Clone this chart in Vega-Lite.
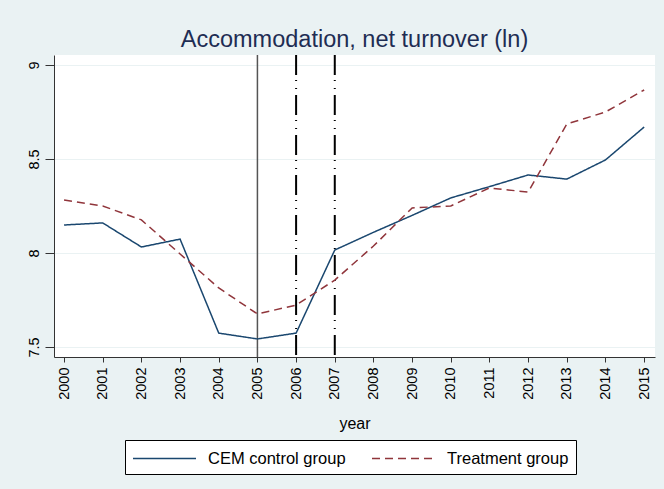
{
  "$schema": "https://vega.github.io/schema/vega-lite/v6.json",
  "width": 601,
  "height": 302,
  "autosize": {"type": "none"},
  "padding": {"left": 54, "top": 55, "right": 9, "bottom": 132},
  "background": "#EAF2F3",
  "title": {
    "text": "Accommodation, net turnover (ln)",
    "fontSize": 23.5,
    "font": "Liberation Sans",
    "fontWeight": "normal",
    "color": "#1e2d53",
    "offset": 3,
    "anchor": "middle"
  },
  "config": {
    "view": {"stroke": null, "fill": "white"},
    "font": "Liberation Sans",
    "axisX": {
      "domainColor": "#333333",
      "domainWidth": 1,
      "tickColor": "#333333",
      "tickSize": 5,
      "tickWidth": 1,
      "labelAngle": -90,
      "labelFontSize": 14.5,
      "labelColor": "black",
      "labelPadding": 5,
      "grid": false,
      "titleFontSize": 16,
      "titleFontWeight": "normal",
      "titleColor": "black",
      "titlePadding": 16
    },
    "axisY": {
      "domainColor": "#333333",
      "domainWidth": 1,
      "tickColor": "#333333",
      "tickSize": 9,
      "tickWidth": 1,
      "labelAngle": -90,
      "labelAlign": "center",
      "labelBaseline": "bottom",
      "labelFontSize": 14.5,
      "labelColor": "black",
      "labelPadding": 4,
      "grid": true,
      "gridColor": "#EAF2F3",
      "gridWidth": 1
    },
    "legend": {
      "orient": "none",
      "legendX": 71,
      "legendY": 385,
      "direction": "horizontal",
      "symbolType": "M-3,0H3",
      "symbolSize": 441,
      "symbolOffset": 21,
      "symbolStrokeWidth": 1.5,
      "labelFontSize": 16.5,
      "labelColor": "black",
      "labelFont": "Liberation Sans",
      "labelLimit": 300,
      "strokeColor": "black",
      "fillColor": "white",
      "padding": 7,
      "columnPadding": 23,
      "labelOffset": 32
    }
  },
  "layer": [
    {
      "data": {"values": [{"year": 2005}]},
      "mark": {"type": "rule", "color": "#555555", "strokeWidth": 1.5},
      "encoding": {
        "x": {"field": "year", "type": "quantitative", "title": "year", "scale": {"domain": [1999.74, 2015.28], "nice": false, "zero": false}, "axis": {"values": [2000, 2001, 2002, 2003, 2004, 2005, 2006, 2007, 2008, 2009, 2010, 2011, 2012, 2013, 2014, 2015], "format": "d"}}
      }
    },
    {
      "data": {"values": [{"year": 2006}, {"year": 2007}]},
      "mark": {"type": "rule", "color": "black", "strokeWidth": 2, "strokeDash": [20, 5, 1, 7, 1, 6]},
      "encoding": {
        "x": {"field": "year", "type": "quantitative", "title": "year"}
      }
    },
    {
      "data": {
        "values": [
          {"year": 2000, "group": "CEM control group", "value": 8.149},
          {"year": 2001, "group": "CEM control group", "value": 8.160},
          {"year": 2002, "group": "CEM control group", "value": 8.032},
          {"year": 2003, "group": "CEM control group", "value": 8.074},
          {"year": 2004, "group": "CEM control group", "value": 7.574},
          {"year": 2005, "group": "CEM control group", "value": 7.543},
          {"year": 2006, "group": "CEM control group", "value": 7.574},
          {"year": 2007, "group": "CEM control group", "value": 8.016},
          {"year": 2008, "group": "CEM control group", "value": 8.110},
          {"year": 2009, "group": "CEM control group", "value": 8.200},
          {"year": 2010, "group": "CEM control group", "value": 8.293},
          {"year": 2011, "group": "CEM control group", "value": 8.353},
          {"year": 2012, "group": "CEM control group", "value": 8.415},
          {"year": 2013, "group": "CEM control group", "value": 8.393},
          {"year": 2014, "group": "CEM control group", "value": 8.495},
          {"year": 2015, "group": "CEM control group", "value": 8.670},
          {"year": 2000, "group": "Treatment group", "value": 8.282},
          {"year": 2001, "group": "Treatment group", "value": 8.250},
          {"year": 2002, "group": "Treatment group", "value": 8.176},
          {"year": 2003, "group": "Treatment group", "value": 7.995},
          {"year": 2004, "group": "Treatment group", "value": 7.814},
          {"year": 2005, "group": "Treatment group", "value": 7.676},
          {"year": 2006, "group": "Treatment group", "value": 7.723},
          {"year": 2007, "group": "Treatment group", "value": 7.856},
          {"year": 2008, "group": "Treatment group", "value": 8.037},
          {"year": 2009, "group": "Treatment group", "value": 8.240},
          {"year": 2010, "group": "Treatment group", "value": 8.250},
          {"year": 2011, "group": "Treatment group", "value": 8.346},
          {"year": 2012, "group": "Treatment group", "value": 8.324},
          {"year": 2013, "group": "Treatment group", "value": 8.686},
          {"year": 2014, "group": "Treatment group", "value": 8.750},
          {"year": 2015, "group": "Treatment group", "value": 8.867}
        ]
      },
      "mark": {"type": "line", "strokeWidth": 1.5},
      "encoding": {
        "x": {"field": "year", "type": "quantitative", "title": "year"},
        "y": {"field": "value", "type": "quantitative", "title": null, "scale": {"domain": [7.447, 9.053], "nice": false, "zero": false}, "axis": {"values": [7.5, 8, 8.5, 9], "format": "~g"}},
        "color": {"field": "group", "type": "nominal", "title": null, "scale": {"domain": ["CEM control group", "Treatment group"], "range": ["#1a476f", "#90353b"]}},
        "strokeDash": {"field": "group", "type": "nominal", "title": null, "scale": {"domain": ["CEM control group", "Treatment group"], "range": [[1, 0], [8, 5]]}}
      }
    }
  ]
}
